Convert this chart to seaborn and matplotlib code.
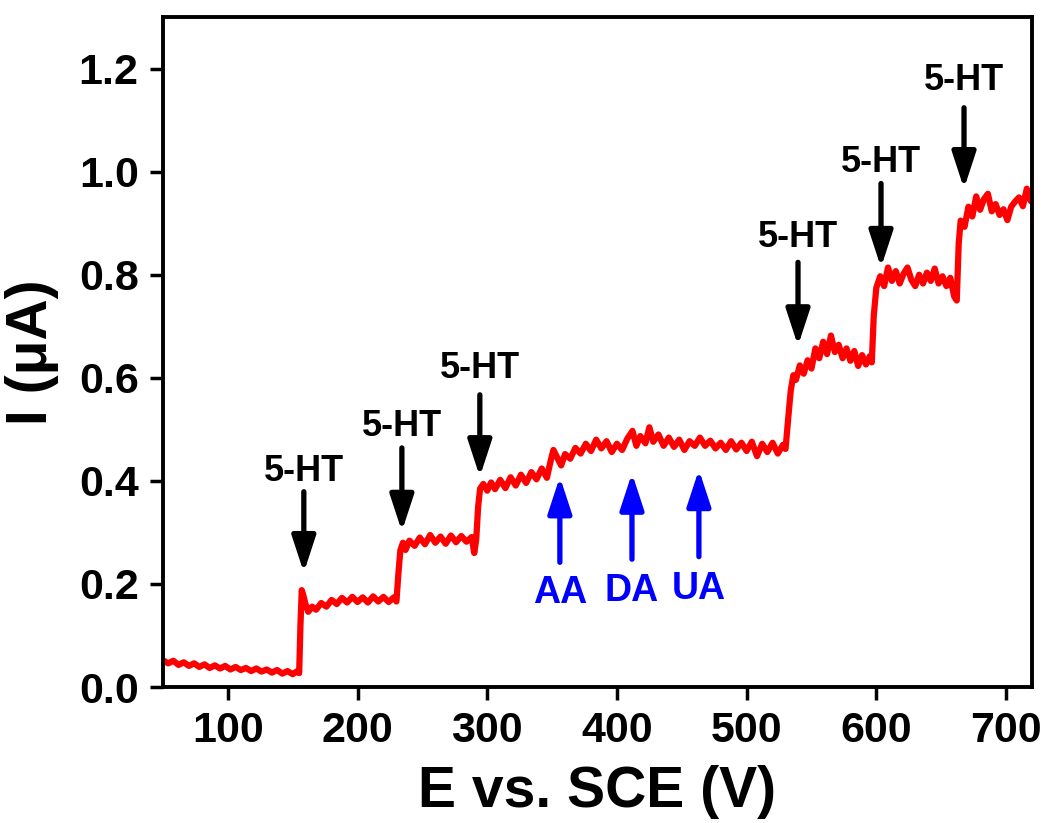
import matplotlib
matplotlib.use("Agg")
import matplotlib.pyplot as plt
import seaborn as sns
import pandas as pd

# ---- data ----
E_a = [50, 54, 58, 62, 66, 70, 74, 78, 82, 86, 90, 94, 98, 102, 106, 110, 114, 118, 122, 126,
       130, 134, 138, 142, 146, 150, 153, 155]
I_a = [.052, .046, .051, .043, .048, .041, .046, .039, .044, .037, .042, .036, .041, .034, .039,
       .033, .037, .031, .036, .030, .034, .028, .033, .026, .031, .025, .030, .027]

E_b = [156, 157, 158, 160, 162, 165, 168, 172, 176, 180, 184, 188, 192, 196, 200, 204, 208, 212,
       216, 220, 224, 228, 230]
I_b = [.120, .188, .180, .160, .146, .156, .150, .163, .156, .169, .161, .173, .164, .175, .165,
       .174, .164, .176, .166, .175, .165, .174, .166]

E_c = [231.5, 233, 235, 237, 240, 244, 248, 252, 256, 260, 264, 268, 272, 276, 280, 284, 288,
       290, 291.5]
I_c = [.220, .265, .280, .266, .284, .274, .290, .277, .295, .280, .292, .278, .294, .281, .293,
       .282, .291, .260, .286]

E_d = [293, 294.5, 297, 300, 303, 306, 310, 314, 318, 322,
       326, 330, 334, 338, 342, 346, 349, 351, 354, 357,
       360, 364, 368, 372, 376, 380, 384, 388, 392, 396,
       400, 404, 408, 412, 415, 418, 422, 425, 428, 432,
       436, 440, 444, 448, 452, 456, 460, 464, 468, 472,
       476, 480, 484, 488, 492, 496, 500, 504, 508, 512,
       516, 520, 524, 528, 530]
I_d = [.350, .385, .394, .381, .397, .384, .402, .386, .407, .391,
       .412, .396, .417, .403, .424, .406, .440, .460, .445, .430,
       .452, .443, .464, .453, .472, .458, .480, .463, .477, .456,
       .472, .460, .482, .497, .468, .487, .473, .504, .476, .490,
       .468, .484, .466, .480, .460, .477, .468, .484, .468, .478,
       .463, .474, .460, .477, .461, .474, .458, .476, .448, .472,
       .456, .474, .453, .470, .462]

E_e = [532, 534, 536, 538, 541, 544, 547, 550, 553, 556, 559, 562, 565, 568, 571, 574, 577, 580,
       583, 586, 589, 592, 595, 596.5]
I_e = [.520, .575, .605, .596, .624, .608, .634, .618, .657, .638, .670, .646, .682, .650, .664,
       .638, .657, .633, .652, .623, .644, .626, .642, .630]

E_f = [598, 600, 603, 606, 609, 612, 615, 618, 621, 624, 627, 630, 633, 636, 639, 642, 645, 648,
       651, 654, 657, 660, 662]
I_f = [.720, .775, .797, .778, .814, .788, .807, .783, .802, .814, .790, .778, .800, .783, .804,
       .788, .812, .783, .797, .778, .794, .758, .750]

E_g = [663.5, 665, 668, 671, 674, 677, 680, 683, 686, 689, 692, 695, 698, 701, 704, 707, 710,
       713, 716, 719, 720]
I_g = [.860, .905, .893, .932, .913, .952, .926, .947, .957, .923, .937, .916, .927, .906, .932,
       .942, .950, .933, .967, .943, .952]

E = E_a + E_b + E_c + E_d + E_e + E_f + E_g
I = I_a + I_b + I_c + I_d + I_e + I_f + I_g

# annotation arrows: (x, tail y, tip y, label y)
ht_x = [158.6, 234.2, 294.3, 539.6, 603.6, 667.6]
ht_tail = [0.379, 0.464, 0.567, 0.824, 0.977, 1.124]
ht_tip = [0.222, 0.302, 0.408, 0.662, 0.814, 0.967]
ht_label_y = [0.418, 0.505, 0.619, 0.872, 1.017, 1.176]
ht_label = "5-HT"

int_names = ["AA", "DA", "UA"]
int_x = [356, 411.6, 463.2]
int_tail = [0.242, 0.248, 0.253]
int_tip = [0.408, 0.415, 0.422]
int_label_y = [0.182, 0.186, 0.190]

xticks = [100, 200, 300, 400, 500, 600, 700]
yticks = [0.0, 0.2, 0.4, 0.6, 0.8, 1.0, 1.2]

# ---- style ----
sns.set_style("ticks")
plt.rcParams['font.family'] = ['Liberation Sans', 'DejaVu Sans']
plt.rcParams['font.weight'] = 'bold'
for key in ['text.color', 'axes.labelcolor', 'xtick.color', 'ytick.color', 'axes.edgecolor']:
    plt.rcParams[key] = 'black'

fig = plt.figure(figsize=(10.46, 8.23), dpi=100)
ax = fig.add_axes([0.1558, 0.1652, 0.8308, 0.8141])

df = pd.DataFrame({"E": E, "I": I})
sns.lineplot(data=df, x="E", y="I", ax=ax, color="#ff0000", lw=4.5, sort=False,
             estimator=None)

ax.set_xlim(50, 720)
ax.set_ylim(0, 1.3)
ax.set_xticks(xticks)
ax.set_yticks(yticks)
ax.set_yticklabels([f"{v:.1f}" for v in yticks])
ax.tick_params(direction='out', length=9.5, width=2.5, labelsize=31, pad=8,
               colors='black')
for lab in ax.get_xticklabels() + ax.get_yticklabels():
    lab.set_fontweight('bold')
for sp in ax.spines.values():
    sp.set_linewidth(2.8)
    sp.set_color('black')
    sp.set_visible(True)

ax.set_xlabel("E vs. SCE (V)", fontsize=41, fontweight='bold', labelpad=10, color='black')
ax.set_ylabel("I (μA)", fontsize=41, fontweight='bold', labelpad=14, color='black')

arrow_style = '-|>,head_length=1.1,head_width=0.36'
for x, t0, t1, ly in zip(ht_x, ht_tail, ht_tip, ht_label_y):
    ax.annotate('', xy=(x, t1), xytext=(x, t0),
                arrowprops=dict(arrowstyle=arrow_style, lw=3.8, color='black',
                                shrinkA=0, shrinkB=0, mutation_scale=20))
    ax.text(x, ly, ht_label, ha='center', va='center', fontsize=26, fontweight='bold',
            color='black')

for name, x, t0, t1, ly in zip(int_names, int_x, int_tail, int_tip, int_label_y):
    ax.annotate('', xy=(x, t1), xytext=(x, t0),
                arrowprops=dict(arrowstyle=arrow_style, lw=3.8, color='#0000ff',
                                shrinkA=0, shrinkB=0, mutation_scale=20))
    ax.text(x, ly, name, ha='center', va='center', fontsize=27, fontweight='bold',
            color='#0000ff')

fig.savefig("out.png", dpi=100)
